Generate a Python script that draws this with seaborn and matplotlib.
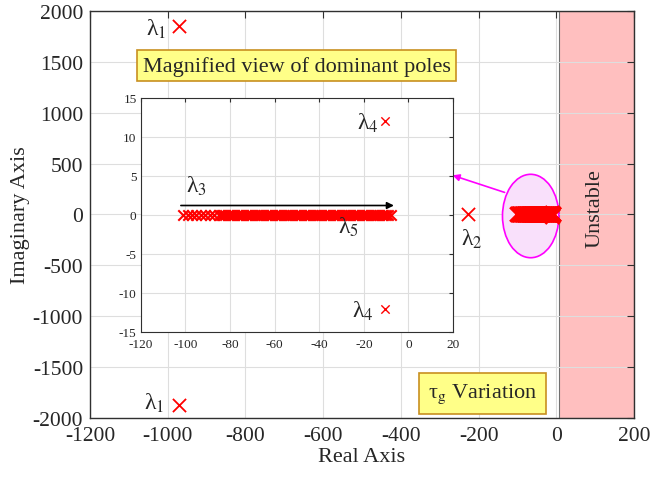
import matplotlib
matplotlib.use('Agg')
import matplotlib.pyplot as plt
from matplotlib.patches import Ellipse
import seaborn as sns

sns.set_style('white')
plt.rcParams['font.family'] = ['Liberation Serif', 'DejaVu Serif']
plt.rcParams['mathtext.fontset'] = 'stix'
plt.rcParams['axes.unicode_minus'] = False

# pole locations
lam1_re = [-970, -970]
lam1_im = [1855, -1870]
lam2_re = [-226]
lam2_im = [0]
lam4_re = [-10.4, -10.4]
lam4_im = [12, -12]
# lambda_3 / lambda_5 sweep along the real axis as tau_g varies
lam35_re = [-101, -99, -97, -95, -93, -91, -89, -87, -85, -84, -83, -82,
            -81, -80, -79, -78, -77, -76, -75, -74, -73, -72, -71, -70,
            -69, -68, -67, -66, -65, -64, -63, -62, -61, -60, -59, -58,
            -57, -56, -55, -54, -53, -52, -51, -50, -49, -48, -47, -46,
            -45, -44, -43, -42, -41, -40, -39, -38, -37, -36, -35, -34,
            -33, -32, -31, -30, -29, -28, -27, -26, -25, -24, -23, -22,
            -21, -20, -19, -18, -17, -16, -15, -14, -13, -12, -11, -10,
            -9, -8]
lam35_im = [0] * len(lam35_re)

main_xticks = [-1200, -1000, -800, -600, -400, -200, 0, 200]
main_yticks = [-2000, -1500, -1000, -500, 0, 500, 1000, 1500, 2000]
zoom_xticks = [-120, -100, -80, -60, -40, -20, 0, 20]
zoom_yticks = [-15, -10, -5, 0, 5, 10, 15]

fig = plt.figure(figsize=(6.5, 4.81), dpi=100)
ax = fig.add_axes([0.1385, 0.129, 0.8369, 0.846])

# Unstable half plane
ax.axvspan(6, 200, facecolor='#ffbfbf', edgecolor='#707070', lw=0.8, zorder=0)
ax.text(100, 70, 'Unstable', rotation=90, ha='center', va='center', fontsize=16)

# Poles in the full view
red = '#ff0000'
sns.scatterplot(x=lam1_re, y=lam1_im, marker='x', color=red, s=90, linewidth=1.3, ax=ax)
sns.scatterplot(x=lam2_re, y=lam2_im, marker='x', color=red, s=90, linewidth=1.3, ax=ax)

# ellipse highlighting the dominant poles
ax.add_patch(Ellipse((-66, -15), 145, 820, facecolor='#f9e0fb', edgecolor='#ff00ff',
                     lw=1.2, zorder=2))
sns.scatterplot(x=lam35_re, y=lam35_im, marker='x', color=red, s=110, linewidth=2.2,
                ax=ax, zorder=3)
sns.scatterplot(x=lam4_re, y=lam4_im, marker='x', color=red, s=110, linewidth=2.2,
                ax=ax, zorder=3)

ax.annotate('', xy=(-267, 385), xytext=(-133, 217),
            arrowprops=dict(arrowstyle='-|>', color='#ff00ff', lw=1.2,
                            mutation_scale=10, shrinkA=0, shrinkB=0), zorder=4)

lab = dict(ha='center', va='center', fontsize=17)
ax.text(-1030, 1830, 'λ$_1$', **lab)
ax.text(-1035, -1850, 'λ$_1$', **lab)
ax.text(-218, -230, 'λ$_2$', **lab)

box = dict(boxstyle='square,pad=0.25', facecolor='#ffff88', edgecolor='#c89020', lw=1.2)
ax.text(-668, 1460, 'Magnified view of dominant poles', ha='center', va='center',
        fontsize=16, bbox=box)
box2 = dict(box, boxstyle='square,pad=0.4')
ax.text(-190, -1760, 'τ$_\\mathrm{g}$ Variation', ha='center', va='center',
        fontsize=16, bbox=box2)

ax.set_xlim(-1200, 200)
ax.set_ylim(-2000, 2000)
ax.set_xticks(main_xticks)
ax.set_yticks(main_yticks)
ax.grid(True, color='#dedede', lw=0.8)
ax.tick_params(direction='in', top=True, right=True, labelsize=15.5, length=5,
               color='#303030')
ax.tick_params(axis='x', pad=6)
ax.tick_params(axis='y', pad=5)
for sp in ax.spines.values():
    sp.set_color('#303030')
    sp.set_linewidth(1.0)
ax.set_xlabel('Real Axis', fontsize=16, labelpad=1)
ax.set_ylabel('Imaginary Axis', fontsize=16, labelpad=2)

# Magnified inset
axi = fig.add_axes([0.2165, 0.3077, 0.4805, 0.487])
axi.set_facecolor('white')
sns.scatterplot(x=lam35_re, y=lam35_im, marker='x', color=red, s=56, linewidth=1.5, ax=axi)
sns.scatterplot(x=lam4_re, y=lam4_im, marker='x', color=red, s=36, linewidth=1.0, ax=axi)
axi.annotate('', xy=(-6.5, 1.2), xytext=(-102, 1.2),
             arrowprops=dict(arrowstyle='-|>', color='black', lw=1.2,
                             mutation_scale=10, shrinkA=0, shrinkB=0))
axi.text(-95, 3.8, 'λ$_3$', **lab)
axi.text(-27, -1.5, 'λ$_5$', **lab)
axi.text(-18, 11.8, 'λ$_4$', **lab)
axi.text(-20.5, -12.2, 'λ$_4$', **lab)
axi.set_xlim(-120, 20)
axi.set_ylim(-15, 15)
axi.set_xticks(zoom_xticks)
axi.set_yticks(zoom_yticks)
axi.grid(True, color='#dedede', lw=0.8)
axi.tick_params(direction='in', top=True, right=True, labelsize=9.5, length=3,
                color='#303030')
axi.tick_params(axis='x', pad=4)
axi.tick_params(axis='y', pad=3)
for sp in axi.spines.values():
    sp.set_color('#303030')
    sp.set_linewidth(0.8)

fig.savefig('out.png', dpi=100)
